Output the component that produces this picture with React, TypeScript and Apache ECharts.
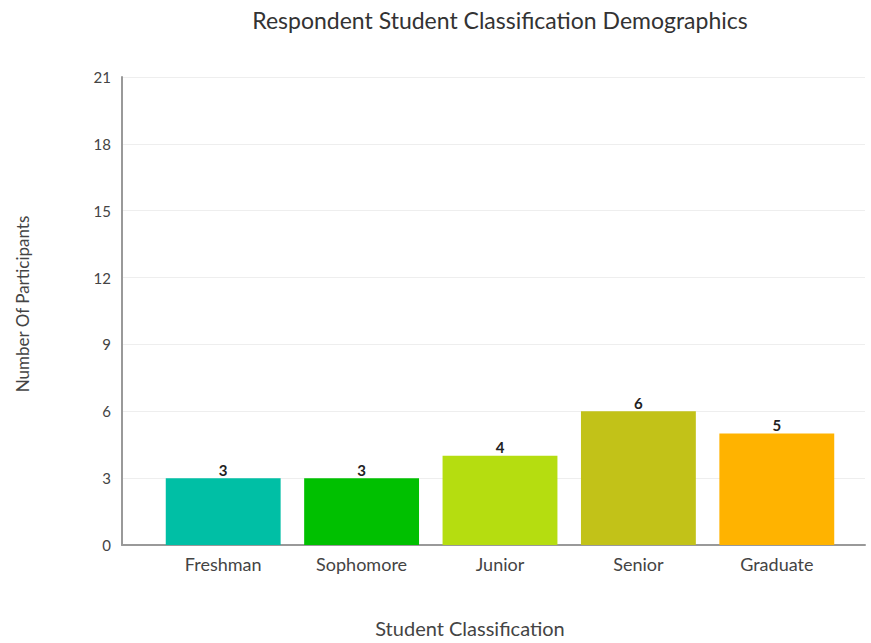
import React, { useEffect, useRef } from "react";
import * as echarts from "echarts";

const categories = ["Freshman", "Sophomore", "Junior", "Senior", "Graduate"];
const participants = [3, 3, 4, 6, 5];
const barColors = ["#00BFA5", "#00C000", "#B5DD10", "#C2C218", "#FFB300"];
const yMax = 21;
const yInterval = 3;

const FONT = "Lato, 'Open Sans', sans-serif";

export default function App() {
  const ref = useRef<HTMLDivElement>(null);

  useEffect(() => {
    if (!ref.current) return;
    const chart = echarts.init(ref.current, null, { renderer: "svg" });
    chart.setOption({
      animation: false,
      backgroundColor: "#ffffff",
      title: {
        text: "Respondent Student Classification Demographics",
        left: 495,
        top: 3,
        textAlign: "center",
        textStyle: { fontFamily: FONT, fontSize: 23, fontWeight: "normal", color: "#333333" },
      },
      grid: [
        { left: 154, right: 25, top: 77, bottom: 98, containLabel: false },
        { left: 122, right: 6, top: 77, bottom: 98, containLabel: false },
      ],
      xAxis: [
        {
          type: "category",
          gridIndex: 0,
          data: categories,
          axisLine: { show: false },
          axisTick: { show: false },
          axisLabel: { fontFamily: FONT, fontSize: 18, color: "#444444", margin: 10 },
        },
        {
          type: "value",
          gridIndex: 1,
          min: 0,
          max: 1,
          axisLine: { show: true, lineStyle: { color: "#999999", width: 2 } },
          axisTick: { show: false },
          axisLabel: { show: false },
          splitLine: { show: false },
        },
      ],
      yAxis: [
        {
          type: "value",
          gridIndex: 0,
          min: 0,
          max: yMax,
          interval: yInterval,
          show: false,
        },
        {
          type: "value",
          gridIndex: 1,
          min: 0,
          max: yMax,
          interval: yInterval,
          axisLine: { show: true, lineStyle: { color: "#999999", width: 2 } },
          axisTick: { show: false },
          axisLabel: { fontFamily: FONT, fontSize: 15, color: "#444444", margin: 11 },
          splitLine: { show: true, lineStyle: { color: "#eeeeee", width: 1 } },
        },
      ],
      graphic: [
        {
          type: "text",
          x: 22,
          y: 304,
          rotation: Math.PI / 2,
          style: {
            text: "Number Of Participants",
            fontFamily: FONT,
            fontSize: 17,
            fill: "#444444",
            align: "center",
            verticalAlign: "middle",
          },
        },
        {
          type: "text",
          x: 470,
          y: 628,
          style: {
            text: "Student Classification",
            fontFamily: FONT,
            fontSize: 20,
            fill: "#444444",
            align: "center",
            verticalAlign: "middle",
          },
        },
      ],
      series: [
        {
          type: "bar",
          xAxisIndex: 0,
          yAxisIndex: 0,
          barCategoryGap: "17%",
          data: participants.map((v, i) => ({ value: v, itemStyle: { color: barColors[i] } })),
          label: {
            show: true,
            position: "top",
            distance: 1,
            fontFamily: FONT,
            fontSize: 15,
            fontWeight: "bold",
            color: "#222222",
          },
        },
      ],
    });
    return () => chart.dispose();
  }, []);

  return <div ref={ref} style={{ width: 871, height: 643, position: "absolute", left: 0, top: 0 }} />;
}
